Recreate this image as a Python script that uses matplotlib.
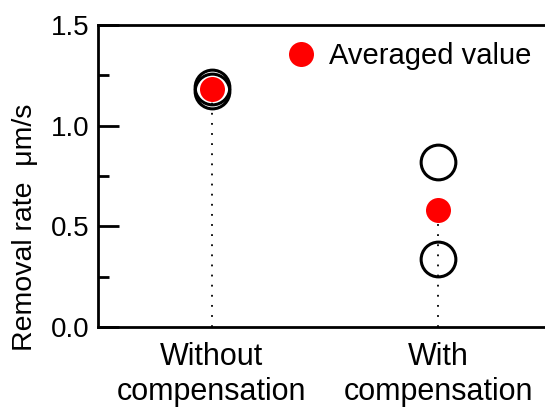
import matplotlib
matplotlib.use("Agg")
import matplotlib.pyplot as plt
import numpy as np

# data
categories = ["Without\ncompensation", "With\ncompensation"]
without_vals = [1.19, 1.17]
with_vals = [0.82, 0.34]
averages = [1.18, 0.58]

plt.rcParams["font.family"] = ["Liberation Sans", "DejaVu Sans"]

fig = plt.figure(figsize=(5.45, 4.08), dpi=100)
ax = fig.add_axes([0.18, 0.1985, 0.82, 0.7402])

xpos = np.arange(len(categories))

# dotted drop lines from zero up to each average
ax.vlines(xpos, 0, averages, colors="black", linestyles=(0, (1, 4.6)),
          linewidth=1.3, zorder=1)

ax.plot([xpos[0]] * len(without_vals), without_vals, "o", ms=25,
        mfc="none", mec="black", mew=2.2, zorder=2)
ax.plot([xpos[1]] * len(with_vals), with_vals, "o", ms=25,
        mfc="none", mec="black", mew=2.2, zorder=2)
ax.plot(xpos, averages, "o", ms=18, color="red", mec="none",
        label="Averaged value", zorder=3)

ax.set_xlim(-0.5, 1.47)
ax.set_ylim(0, 1.5)
ax.set_xticks(xpos)
ax.set_xticklabels(categories, fontsize=22, linespacing=1.2)
ax.set_yticks([0, 0.5, 1.0, 1.5])
ax.set_yticks([0.25, 0.75, 1.25], minor=True)
ax.set_yticklabels(["0.0", "0.5", "1.0", "1.5"], fontsize=20)

ax.tick_params(axis="x", length=0, pad=11)
ax.tick_params(axis="y", which="major", direction="in", length=15,
               width=2, pad=6)
ax.tick_params(axis="y", which="minor", direction="in", length=8, width=2)

for s in ["left", "top", "bottom"]:
    ax.spines[s].set_linewidth(2)
ax.spines["right"].set_visible(False)

ax.set_ylabel("Removal rate  \u03bcm/s", fontsize=20.5)
ax.yaxis.set_label_coords(-0.135, 0.33)

ax.legend(loc="upper right", bbox_to_anchor=(1.028, 1.03), frameon=False,
          fontsize=21, handletextpad=0.35, handlelength=1.2, numpoints=1)

fig.savefig("out.png", dpi=100)
